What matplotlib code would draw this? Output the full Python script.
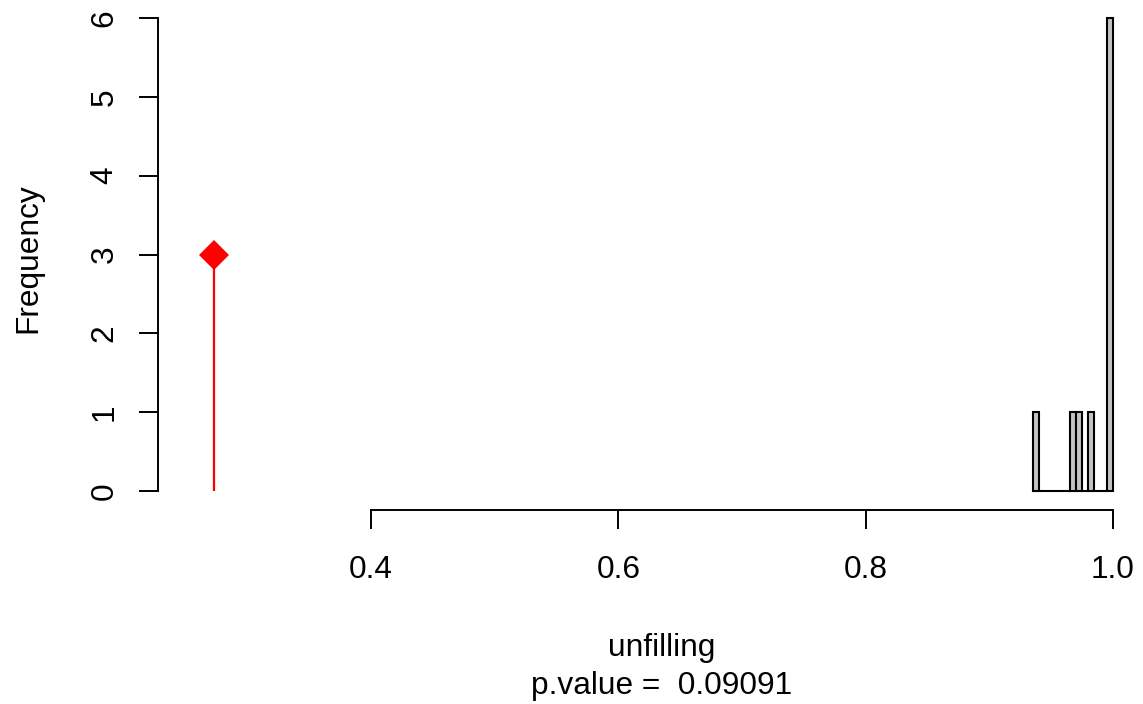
import numpy as np
import matplotlib
matplotlib.use("Agg")
import matplotlib.pyplot as plt

plt.rcParams["font.family"] = ["Liberation Sans", "DejaVu Sans"]

# histogram of permutation statistics
bin_left = [0.935, 0.940, 0.945, 0.950, 0.955, 0.960, 0.965,
            0.970, 0.975, 0.980, 0.985, 0.990, 0.995]
bin_width = 0.005
counts = [1, 0, 0, 0, 0, 0, 1, 1, 0, 1, 0, 0, 6]

# observed value
observed_x = 0.2733
observed_y = 3

xticks = [0.4, 0.6, 0.8, 1.0]
xtick_labels = ["0.4", "0.6", "0.8", "1.0"]
yticks = [0, 1, 2, 3, 4, 5, 6]

xlabel = "unfilling"
pvalue_text = "p.value =  0.09091"

W, H = 1143, 704
FS = 22.8
fig = plt.figure(figsize=(W / 100, H / 100), dpi=100)
ax = fig.add_axes([158 / W, 1 - 510 / H, (1140 - 158) / W, 510 / H])

ax.bar(bin_left, counts, width=bin_width, align="edge",
       color="#C4C4C4", edgecolor="black", linewidth=1.5)

ax.vlines(observed_x, 0, observed_y, color="red", linewidth=1.6)
ax.plot([observed_x], [observed_y], marker="D", color="red", markersize=15.5,
        markeredgewidth=0, linestyle="none")

ax.set_xlim(0.2277, 1.0219)
ax.set_ylim(-0.241, 6.229)

for s in ["top", "right"]:
    ax.spines[s].set_visible(False)
ax.spines["left"].set_bounds(0, 6)
ax.spines["bottom"].set_bounds(0.4, 1.0)
ax.spines["left"].set_linewidth(1.4)
ax.spines["bottom"].set_linewidth(1.4)

ax.set_xticks(xticks)
ax.set_xticklabels(xtick_labels)
ax.set_yticks(yticks)
ax.tick_params(axis="both", direction="out", length=13.7, width=1.4,
               labelsize=FS)
ax.tick_params(axis="x", pad=19)
ax.tick_params(axis="y", pad=14)
for lab in ax.get_yticklabels():
    lab.set_rotation(90)
    lab.set_va("center")

fig.text(662 / W, 1 - 656 / H, xlabel, ha="center", va="baseline", fontsize=FS)
fig.text(662 / W, 1 - 694 / H, pvalue_text, ha="center", va="baseline", fontsize=FS)
fig.text(28 / W, 1 - 258 / H, "Frequency", ha="center", va="center",
         rotation=90, fontsize=FS)

fig.savefig("out.png", dpi=100)
